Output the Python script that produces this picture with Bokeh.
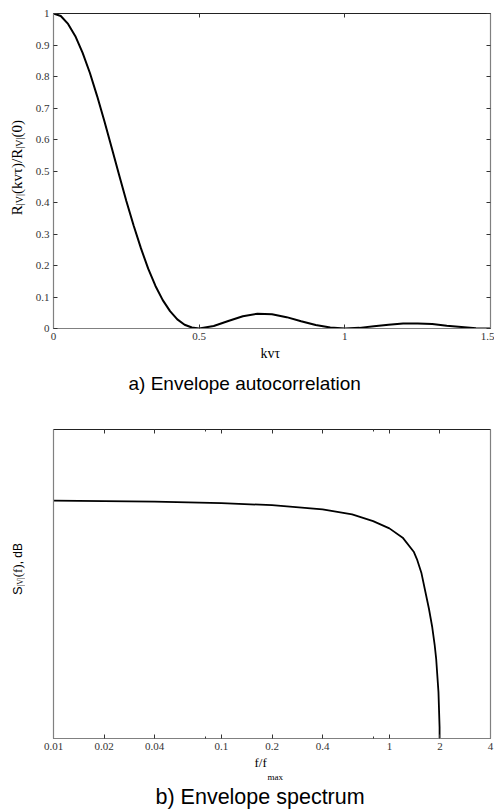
from bokeh.plotting import figure
from bokeh.models import (Range1d, FixedTicker, LinearAxis, LogAxis, Title, Div,
                          CustomJSTickFormatter, ColumnDataSource)
from bokeh.layouts import column, row
from bokeh.embed import file_html
from bokeh.resources import INLINE

# ---- data: a) envelope autocorrelation ----
kvt = [0, 0.025, 0.05, 0.075, 0.1, 0.125, 0.15, 0.175, 0.2, 0.225, 0.25, 0.275,
       0.3, 0.325, 0.35, 0.375, 0.4, 0.425, 0.45, 0.475, 0.5, 0.55, 0.6, 0.65,
       0.7, 0.75, 0.8, 0.85, 0.9, 0.95, 1.0, 1.05, 1.1, 1.15, 1.2, 1.25, 1.3,
       1.35, 1.4, 1.45, 1.5]
r_norm = [1.0, 0.992, 0.967, 0.928, 0.875, 0.811, 0.737, 0.657, 0.573, 0.488,
          0.405, 0.327, 0.255, 0.190, 0.135, 0.090, 0.055, 0.029, 0.012, 0.003,
          0.0, 0.008, 0.024, 0.039, 0.047, 0.045, 0.036, 0.023, 0.011, 0.003,
          0.0, 0.002, 0.007, 0.012, 0.016, 0.016, 0.014, 0.009, 0.005, 0.001, 0.0]
x1_ticks = [0, 0.5, 1, 1.5]
y1_ticks = [0, 0.1, 0.2, 0.3, 0.4, 0.5, 0.6, 0.7, 0.8, 0.9, 1]

# ---- data: b) envelope spectrum (dB, relative) ----
f_norm = [0.01, 0.02, 0.04, 0.1, 0.2, 0.4, 0.6, 0.8, 1.0, 1.2, 1.4, 1.46,
          1.55, 1.64, 1.72, 1.8, 1.86, 1.9, 1.96, 1.99, 2.0]
s_db = [0.0, -0.05, -0.1, -0.25, -0.45, -0.85, -1.35, -2.0, -2.7, -3.6, -5.0,
        -5.7, -7.0, -8.9, -10.5, -12.3, -14.0, -15.4, -18.6, -22.0, -40.0]
x2_ticks = [0.01, 0.02, 0.04, 0.1, 0.2, 0.4, 1, 2, 4]
x2_minor = [0.08, 0.8]

SERIF = "Liberation Serif"
SANS = "Liberation Sans"
fmt_code = "return String(Number(tick.toPrecision(6)))"
DIV_W = 26


def style_axis(ax, ticker, labels=True, tick_len=4, minor_len=0, line_color="#808080"):
    ax.ticker = ticker
    ax.axis_line_color = line_color
    ax.axis_line_width = 1.2
    ax.major_tick_in = tick_len
    ax.major_tick_out = 0
    ax.minor_tick_in = minor_len
    ax.minor_tick_out = 0
    ax.major_tick_line_color = "#333333"
    ax.minor_tick_line_color = "#333333"
    ax.axis_label = None
    if labels:
        ax.formatter = CustomJSTickFormatter(code=fmt_code)
        ax.major_label_text_font = SERIF
        ax.major_label_text_font_size = "11px"
        ax.major_label_text_color = "#333333"
        ax.major_label_standoff = 4
    else:
        ax.formatter = CustomJSTickFormatter(code="return ''")
        ax.major_label_text_font_size = "0px"
        ax.major_label_standoff = 0


def add_title(p, text, font, size, standoff, offset=0):
    p.add_layout(Title(text=text, align="left", offset=offset, standoff=standoff,
                       text_font=font, text_font_size=f"{size}px",
                       text_font_style="normal", text_color="black"), "below")


def ylabel_div(inner, height, left, top):
    html = (f'<div style="position:relative;width:{DIV_W}px;height:{height}px;">'
            f'<span style="position:absolute;left:{left}px;top:{top}px;'
            f'writing-mode:vertical-rl;transform:rotate(180deg);white-space:nowrap;'
            f'line-height:15px;color:black;">{inner}</span></div>')
    return Div(text=html, width=DIV_W, height=height, margin=0)


SUB = "vertical-align:-3px;line-height:0;font-family:'Liberation Serif';"

# ---------------- figure a ----------------
p1 = figure(frame_width=437, frame_height=315, x_range=Range1d(0, 1.5),
            y_range=Range1d(0, 1), output_backend="svg", toolbar_location=None,
            min_border_left=53 - DIV_W, min_border_right=4, min_border_top=13,
            min_border_bottom=77, background_fill_color="white",
            border_fill_color="white", outline_line_color=None)
p1.grid.visible = False
style_axis(p1.xaxis[0], FixedTicker(ticks=x1_ticks))
style_axis(p1.yaxis[0], FixedTicker(ticks=y1_ticks))
top1 = LinearAxis()
style_axis(top1, FixedTicker(ticks=x1_ticks), labels=False, line_color="#222222")
p1.add_layout(top1, "above")
right1 = LinearAxis()
style_axis(right1, FixedTicker(ticks=y1_ticks), labels=False)
p1.add_layout(right1, "right")

src1 = ColumnDataSource(dict(x=kvt, y=r_norm))
p1.line("x", "y", source=src1, line_color="black", line_width=2)

add_title(p1, "kvτ", SERIF, 14, 2, offset=207)
add_title(p1, "a) Envelope autocorrelation", SANS, 19, 18, offset=75)

ylab1 = ylabel_div(
    "<span style=\"font-family:'Liberation Serif';font-size:15px;\">R"
    f"<sub style=\"font-size:10px;{SUB}\">|V|</sub>(kvτ)/R"
    f"<sub style=\"font-size:10px;{SUB}\">|V|</sub>(0)</span>",
    405, 10, 120)

# ---------------- figure b ----------------
p2 = figure(frame_width=437, frame_height=309, x_range=Range1d(0.01, 4),
            y_range=Range1d(-23.1, 6.9), x_axis_type="log",
            output_backend="svg", toolbar_location=None,
            min_border_left=53 - DIV_W, min_border_right=4, min_border_top=24,
            min_border_bottom=74, background_fill_color="white",
            border_fill_color="white", outline_line_color=None)
p2.grid.visible = False
style_axis(p2.xaxis[0], FixedTicker(ticks=x2_ticks, minor_ticks=x2_minor), minor_len=2)
style_axis(p2.yaxis[0], FixedTicker(ticks=[]), labels=False, tick_len=0)
top2 = LogAxis()
style_axis(top2, FixedTicker(ticks=x2_ticks, minor_ticks=x2_minor), labels=False,
           minor_len=2, line_color="#222222")
p2.add_layout(top2, "above")
right2 = LinearAxis()
style_axis(right2, FixedTicker(ticks=[]), labels=False, tick_len=0)
p2.add_layout(right2, "right")

src2 = ColumnDataSource(dict(x=f_norm, y=s_db))
p2.line("x", "y", source=src2, line_color="black", line_width=1.8)

add_title(p2, "f/f", SERIF, 13, 0, offset=201)
add_title(p2, "max", SERIF, 9, 0, offset=214)
add_title(p2, "b) Envelope spectrum", SANS, 21.5, 2, offset=102)

ylab2 = ylabel_div(
    "<span style=\"font-family:'Liberation Sans';font-size:13px;\">S</span>"
    f"<sub style=\"font-size:8px;{SUB}\">|V|</sub>"
    "<span style=\"font-family:'Liberation Serif';font-size:13px;\">(f)</span>"
    "<span style=\"font-family:'Liberation Sans';font-size:12px;\">, dB</span>",
    407, 10, 138)

layout = column(row(ylab1, p1, spacing=0), row(ylab2, p2, spacing=0), spacing=0)
open("out.html", "w").write(file_html(layout, INLINE))
